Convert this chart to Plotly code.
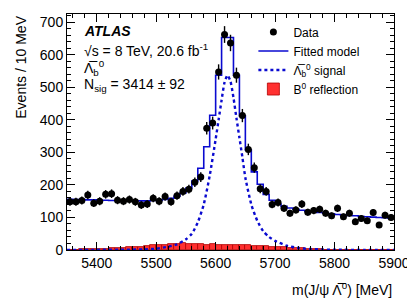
import numpy as np
import plotly.graph_objects as go

# ---- data ----
bin_centers = list(range(5355, 5900, 10))
data_counts = [148, 148, 152, 169, 144, 150, 171, 173, 153, 150,
               155, 148, 138, 141, 159, 150, 164, 148, 167, 180,
               187, 208, 224, 374, 390, 547, 662, 636, 537, 413,
               309, 253, 188, 180, 140, 146, 128, 113, 123, 141,
               116, 121, 125, 113, 105, 128, 102, 113, 87, 97,
               90, 115, 77, 107, 100]
model_counts = [156, 155, 155, 154, 154, 153, 153, 152, 152, 152,
                151, 151, 151, 151, 152, 153, 155, 159, 165, 175,
                190, 212, 251, 317, 414, 537, 653, 653, 537, 412,
                307, 240, 202, 171, 153, 141, 134, 129, 125, 122,
                119, 117, 115, 113, 111, 109, 108, 106, 105, 103,
                102, 101, 100, 99, 98]
reflection_counts = [1, 1.5, 2, 2.5, 3, 3.5, 4, 5, 6, 7,
                     8, 9, 10, 12, 14, 15, 16, 17, 19, 20,
                     18, 17, 17, 16, 17, 16, 15, 15, 15, 14,
                     14, 13, 12, 11, 10, 9, 8, 7, 6, 5,
                     4, 3, 2, 1.5, 1, 0.5, 0.4, 0.3, 0.2, 0.2,
                     0.1, 0.1, 0.1, 0.1, 0.1]
signal_x = [5350, 5400, 5450, 5480, 5500, 5520, 5535, 5550, 5560, 5570,
            5580, 5590, 5600, 5605, 5610, 5615, 5620, 5625, 5630, 5635,
            5640, 5645, 5650, 5660, 5670, 5680, 5690, 5700, 5720, 5740,
            5760, 5780, 5800, 5850, 5900]
signal_y = [0, 0.5, 1, 2, 4, 10, 17, 33, 50, 85,
            140, 228, 340, 400, 460, 515, 537, 518, 468, 405,
            345, 285, 222, 140, 90, 58, 40, 28, 13, 6,
            3, 1.5, 0.8, 0.2, 0]
bin_width = 10

assert len(data_counts) == len(bin_centers) == len(model_counts) == len(reflection_counts)

data_err = np.sqrt(np.array(data_counts, dtype=float))
edges = [c - bin_width / 2 for c in bin_centers] + [bin_centers[-1] + bin_width / 2]
model_step = list(model_counts) + [model_counts[-1]]

FONT = "Liberation Sans, Arial, Helvetica, sans-serif"
BLUE = "#0a0ad0"

fig = go.Figure()

fig.add_trace(go.Bar(
    x=bin_centers, y=reflection_counts, width=bin_width,
    marker=dict(color="#ff3030", line=dict(color="#b00000", width=0.8)),
    name="B<sup>0</sup> reflection", legendrank=4))

fig.add_trace(go.Scatter(
    x=signal_x, y=signal_y, mode="lines",
    line=dict(color=BLUE, width=2.4, dash="dot", shape="spline", smoothing=0.6),
    name="Λ\u0305<sub>b</sub><sup>0</sup> signal", legendrank=3))

fig.add_trace(go.Scatter(
    x=edges, y=model_step, mode="lines",
    line=dict(color=BLUE, width=1.6, shape="hv"),
    name="Fitted model", legendrank=2))

fig.add_trace(go.Scatter(
    x=bin_centers, y=data_counts, mode="markers",
    marker=dict(color="black", size=7),
    error_y=dict(type="data", array=data_err, color="black", thickness=1.4, width=0),
    name="Data", legendrank=1))

axis_common = dict(
    showline=True, linecolor="black", linewidth=1, mirror="allticks",
    ticks="inside", ticklen=8, tickwidth=1, tickcolor="black",
    showgrid=False, zeroline=False,
    tickfont=dict(family=FONT, size=14, color="black"),
)

fig.update_xaxes(range=[5350, 5900], dtick=100, tick0=5400,
                 minor=dict(ticks="inside", ticklen=4, dtick=20, tickcolor="black", showgrid=False),
                 **axis_common)
fig.update_yaxes(range=[0, 725], dtick=100, tick0=0,
                 minor=dict(ticks="inside", ticklen=4, dtick=20, tickcolor="black", showgrid=False),
                 **axis_common)

annotations = [
    dict(text="<b><i>ATLAS</i></b>", x=0.047, y=0.928),
    dict(text="√s = 8 TeV, 20.6 fb<sup>-1</sup>", x=0.047, y=0.847),
    dict(text="Λ\u0305<sub>b</sub><sup>0</sup>", x=0.047, y=0.772),
    dict(text="N<sub>sig</sub> = 3414 ± 92", x=0.047, y=0.699),
]
ann = []
for a in annotations:
    ann.append(dict(xref="paper", yref="paper", xanchor="left", yanchor="middle",
                    showarrow=False, font=dict(family=FONT, size=14, color="black"), **a))
ann.append(dict(text="Events / 10 MeV", xref="paper", yref="paper", x=-0.143, y=1.0,
                xanchor="center", yanchor="top", textangle=-90, showarrow=False,
                font=dict(family=FONT, size=14, color="black")))
ann.append(dict(text="m(J/ψ Λ\u0305<sup>0</sup>) [MeV]", xref="paper", yref="paper", x=1.0, y=-0.165,
                xanchor="right", yanchor="middle", showarrow=False,
                font=dict(family=FONT, size=14, color="black")))

# page body has an 8px margin at top/left: shrink figure and margins to compensate
fig.update_layout(
    width=407, height=290,
    margin=dict(l=59, r=21, t=6, b=48),
    plot_bgcolor="white", paper_bgcolor="white",
    barmode="overlay", bargap=0,
    annotations=ann,
    showlegend=True,
    legend=dict(x=0.57, y=0.985, xanchor="left", yanchor="top",
                bgcolor="rgba(0,0,0,0)", borderwidth=0,
                font=dict(family=FONT, size=12, color="black"),
                tracegroupgap=0, itemwidth=30),
)

fig.write_html("out.html")
